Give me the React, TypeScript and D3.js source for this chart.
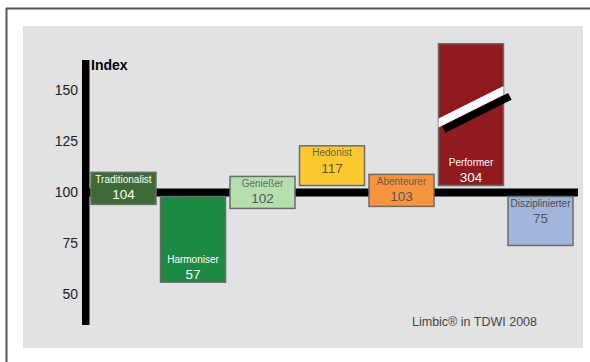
import React from "react";
import * as d3 from "d3";

const categories = ["Traditionalist", "Harmoniser", "Genießer", "Hedonist", "Abenteurer", "Performer", "Disziplinierter"];
const values = [104, 57, 102, 117, 103, 304, 75];
const fills = ["#3e6b35", "#1c8a43", "#b6dfae", "#fec92f", "#f7953f", "#901a1e", "#a2b5dc"];
const nameColors = ["#ffffff", "#ffffff", "#6a6a6a", "#6a5f45", "#6e5a48", "#ffffff", "#4a4a4a"];
const valueColors = ["#ffffff", "#ffffff", "#555555", "#555555", "#555555", "#ffffff", "#555555"];
const yTicks = [50, 75, 100, 125, 150];
const baseline = 100;
const yDomain = [35, 165];
const breakCap = 173;
const axisTitle = "Index";
const sourceNote = "Limbic® in TDWI 2008";

const W = 590;
const H = 362;
const FONT = "'Liberation Sans', Arial, sans-serif";

export default function App() {
  const y = d3.scaleLinear().domain(yDomain).range([325, 60]);
  const x = d3
    .scaleBand<string>()
    .domain(categories)
    .range([88.75, 575.25])
    .paddingInner(0.0647)
    .paddingOuter(0.0324);
  const bw = x.bandwidth();
  const yb = y(baseline);
  const angle = -26.57;

  const boxes = categories.map((c, i) => {
    const v = values[i];
    let top: number;
    let bottom: number;
    let broken = false;
    if (v >= baseline) {
      if (v > breakCap) {
        top = y(breakCap);
        broken = true;
      } else {
        top = y(v) - 12;
      }
      bottom = Math.max(top + 32, yb - 7);
    } else {
      top = yb + 4;
      bottom = y(v) + 2;
    }
    const h = bottom - top;
    let nameY: number;
    let valY: number;
    if (h > 60) {
      nameY = bottom - 23;
      valY = bottom - 8;
    } else {
      nameY = top + 7;
      valY = top + 22;
    }
    return { c, v, i, x0: x(c) as number, top, bottom, h, nameY, valY, broken };
  });

  return (
    <svg width={W} height={H} style={{ position: "absolute", left: 0, top: 0 }} fontFamily={FONT}>
      <rect x={0} y={0} width={W} height={H} fill="#ffffff" />
      <line x1={6} x2={W} y1={8.5} y2={8.5} stroke="#555" strokeWidth={2} />
      <line x1={6.5} x2={6.5} y1={8} y2={H} stroke="#555" strokeWidth={2} />
      <rect x={23} y={26} width={560} height={322} fill="#e1e2e4" />

      {/* baseline */}
      <rect x={82} y={yb - 4} width={496} height={8} fill="#000" />
      {/* y axis bar */}
      <rect x={82} y={y(yDomain[1])} width={7.5} height={y(yDomain[0]) - y(yDomain[1])} fill="#000" />
      <text x={91} y={y(yDomain[1]) + 10} fontSize={14} fontWeight="bold" fill="#000">
        {axisTitle}
      </text>
      {yTicks.map((t) => (
        <text key={t} x={78} y={y(t)} dy="0.35em" textAnchor="end" fontSize={14} fill="#222">
          {t}
        </text>
      ))}

      <defs>
        {boxes.map((b) => (
          <clipPath key={b.c} id={`clip-${b.i}`}>
            <rect x={b.x0} y={0} width={bw} height={H} />
          </clipPath>
        ))}
      </defs>

      {boxes.map((b) => {
        const cx = b.x0 + bw / 2;
        const by = b.top + 0.445 * b.h;
        const len = bw / Math.cos((angle * Math.PI) / 180);
        return (
          <g key={b.c}>
            <rect x={b.x0} y={b.top} width={bw} height={b.h} fill={fills[b.i]} stroke="#6b6b6b" strokeWidth={1.5} />
            {b.broken && (
              <g>
                <g transform={`translate(${cx + 5.8},${by + 6.1}) rotate(${angle})`}>
                  <rect x={-37} y={-3.8} width={74} height={7.6} fill="#000" />
                </g>
                <g clipPath={`url(#clip-${b.i})`}>
                  <g transform={`translate(${cx},${by}) rotate(${angle})`}>
                    <rect x={-len / 2 - 2} y={-4} width={len + 4} height={8} fill="#fff" />
                  </g>
                </g>
              </g>
            )}
            <text x={cx} y={b.nameY} dy="0.35em" textAnchor="middle" fontSize={10} fill={nameColors[b.i]}>
              {b.c}
            </text>
            <text x={cx} y={b.valY} dy="0.35em" textAnchor="middle" fontSize={13.5} fill={valueColors[b.i]}>
              {b.v}
            </text>
          </g>
        );
      })}

      <text x={537} y={322} dy="0.35em" textAnchor="end" fontSize={12.5} fill="#444">
        {sourceNote}
      </text>
    </svg>
  );
}
